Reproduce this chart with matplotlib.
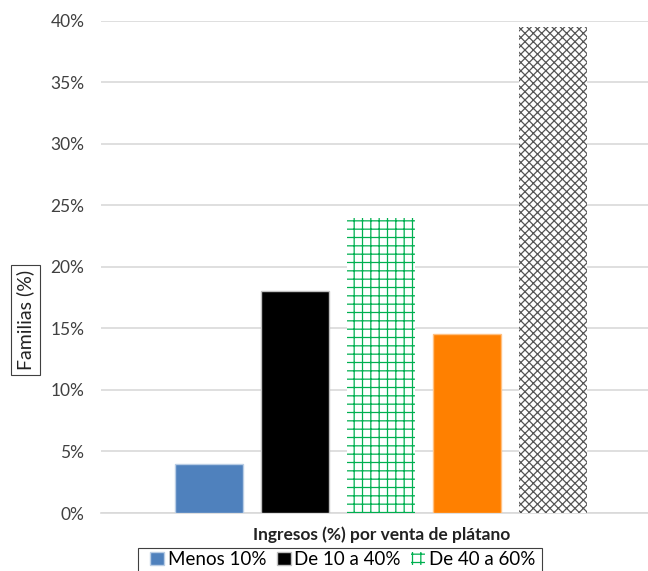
import matplotlib.pyplot as plt
from matplotlib.patches import Rectangle
from matplotlib.ticker import FuncFormatter

plt.rcParams['font.family'] = ['Lato', 'DejaVu Sans']

# --Data--
categories = ["Menos 10%", "De 10 a 40%", "De 40 a 60%", "De 60 a 90%", "Más de 90%"]
values = [4.0, 18.0, 24.0, 14.5, 39.5]
y_ticks = [0, 5, 10, 15, 20, 25, 30, 35, 40]

faces = ["#4F81BD", "#000000", "white", "#FF8000", "white"]
edges = ["#B9CDE5", "#BFBFBF", "#00B050", "#FFC080", "#555555"]
hatches = [None, None, "++", None, "xxxx"]
widths = [1.0, 1.0, 0, 1.0, 0]

fig = plt.figure(figsize=(6.48, 5.71), dpi=100)
ax = fig.add_axes([101 / 648, 58 / 571, 560 / 648, 492.5 / 571])

plt.rcParams['hatch.linewidth'] = 0.9
bars = []
for i, cat in enumerate(categories):
    b = ax.bar(i, values[i], width=0.79, color=faces[i], edgecolor=edges[i],
               hatch=hatches[i], linewidth=widths[i], label=cat, zorder=3)
    bars.append(b)

ax.set_xlim(-1.256, 5.256)
ax.set_ylim(0, 40)
ax.set_yticks(y_ticks)
ax.yaxis.set_major_formatter(FuncFormatter(lambda v, p: "%d%%" % v))
ax.set_xticks([])
ax.tick_params(axis='y', length=0, pad=12, labelsize=12.5, colors='#404040')
ax.grid(axis='y', color='#D9D9D9', linewidth=1.2, zorder=0)
for s in ['top', 'right', 'left']:
    ax.spines[s].set_visible(False)
ax.spines['bottom'].set_color('#D9D9D9')
ax.spines['bottom'].set_linewidth(1.2)

fig.text(381.5 / 648, 1 - 535 / 571, "Ingresos (%) por venta de plátano",
         ha='center', va='center', fontsize=12.5, fontweight='bold', color='#222222')

fig.text(25.5 / 648, 1 - 320 / 571, "Familias (%)", rotation=90, ha='center', va='center',
         fontsize=14, color='#222222',
         bbox=dict(boxstyle='square,pad=0.26', facecolor='white', edgecolor='#404040', linewidth=0.8))

# only the first row of the legend is visible in the picture (box runs off the bottom)
leg = fig.legend(bars[:3], categories[:3], loc='upper left',
                 bbox_to_anchor=(150 / 648, 1 - 551 / 571), ncol=3,
                 fontsize=13.5, frameon=False,
                 handlelength=0.75, handleheight=0.75, handletextpad=0.2, columnspacing=0.55,
                 borderpad=0, borderaxespad=0)
fig.add_artist(Rectangle((138 / 648, -0.02), 404 / 648, (571 - 548) / 571 + 0.02,
                         transform=fig.transFigure, fill=False, edgecolor='#404040', linewidth=0.8))

fig.savefig("out.png", dpi=100)
